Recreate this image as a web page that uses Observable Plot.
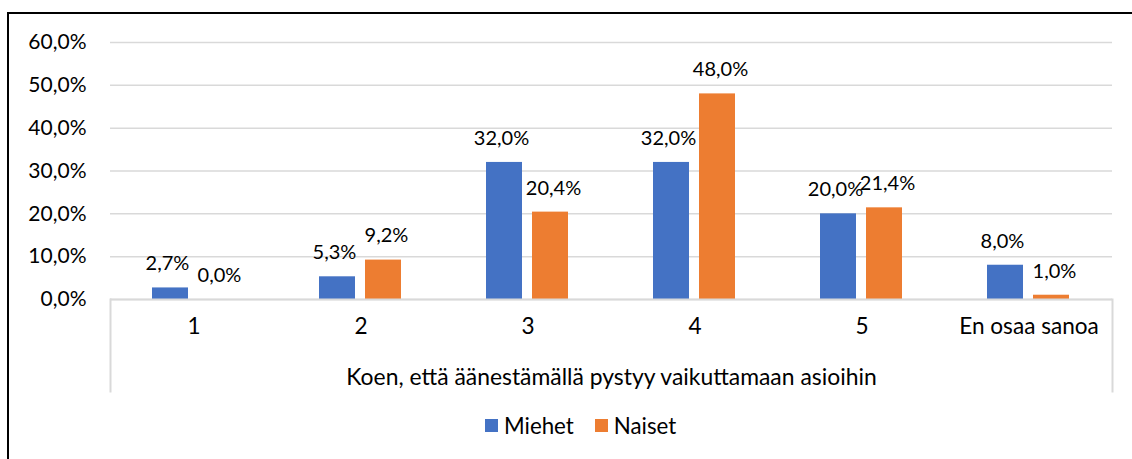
<!DOCTYPE html>
<html>
<head>
<meta charset="utf-8">
<script src="https://cdn.jsdelivr.net/npm/d3@7"></script>
<script src="https://cdn.jsdelivr.net/npm/@observablehq/plot@0.6"></script>
<style>
  html, body { margin: 0; padding: 0; background: #fff; }
  body { width: 1132px; height: 459px; position: relative; overflow: hidden; font-family: Lato, "Open Sans", sans-serif; }
  #frame { position: absolute; left: 7px; top: 12px; width: 1200px; height: 500px; border: 2.5px solid #000; box-sizing: border-box; }
  #chart { position: absolute; left: 0; top: 0; }
  #legend { position: absolute; left: 485px; top: 409px; }
  .lg-swatch { margin-right: 21px !important; font-size: 22.3px; color: #000; }
  .lg-swatch > svg { margin-right: 6px !important; }
</style>
</head>
<body>
<div id="frame"></div>
<div id="chart"></div>
<div id="legend"></div>
<script>
const categories = ["1", "2", "3", "4", "5", "En osaa sanoa"];
const series = ["Miehet", "Naiset"];
const miehet = [0.027, 0.053, 0.32, 0.32, 0.20, 0.08];
const naiset = [0.0, 0.092, 0.204, 0.48, 0.214, 0.01];
const yTicks = [0, 0.1, 0.2, 0.3, 0.4, 0.5, 0.6];
const axisTitle = "Koen, että äänestämällä pystyy vaikuttamaan asioihin";
const colors = ["#4472C4", "#ED7D31"];

const data = categories.flatMap((c, i) => [
  {cat: c, series: "Miehet", value: miehet[i]},
  {cat: c, series: "Naiset", value: naiset[i]}
]);

const fmt = v => (v * 100).toFixed(1).replace(".", ",") + "%";

const plot = Plot.plot({
  width: 1132,
  height: 400,
  marginLeft: 108,
  marginRight: 19,
  marginTop: 42,
  marginBottom: 101,
  style: {fontFamily: "Lato, 'Open Sans', sans-serif", background: "transparent", overflow: "visible", color: "#000"},
  fx: {domain: categories, padding: 0, label: null, axis: null},
  x: {domain: series, paddingInner: 0.2128, paddingOuter: 0.888, axis: null},
  y: {domain: [0, 0.6], axis: null},
  color: {domain: series, range: colors},
  marks: [
    Plot.gridY(yTicks, {stroke: "#d9d9d9", strokeOpacity: 1, strokeWidth: 1.5}),
    Plot.axisY(yTicks, {tickSize: 0, tickPadding: 24, tickFormat: fmt, fontSize: 21, label: null}),
    Plot.axisFx({anchor: "bottom", tickSize: 0, tickPadding: 18, fontSize: 22.6, label: null}),
    Plot.barY(data, {fx: "cat", x: "series", y: "value", fill: "series"}),
    Plot.text(data.filter(d => d.series === "Miehet"), {fx: "cat", x: "series", y: "value", text: d => fmt(d.value), dy: -24, dx: -3, fontSize: 20, fill: "#000"}),
    Plot.text(data.filter(d => d.series === "Naiset"), {fx: "cat", x: "series", y: "value", text: d => fmt(d.value), dy: -24, dx: 3, fontSize: 20, fill: "#000"}),
    Plot.ruleY([0], {stroke: "#d9d9d9", strokeWidth: 2}),
    Plot.frame({anchor: "left", facet: "super", insetTop: 257, insetBottom: -92, stroke: "#d9d9d9", strokeWidth: 2}),
    Plot.frame({anchor: "right", facet: "super", insetTop: 257, insetBottom: -92, stroke: "#d9d9d9", strokeWidth: 2}),
    Plot.text([axisTitle], {frameAnchor: "bottom", facet: "super", lineAnchor: "middle", dy: 78, fontSize: 22.9, fill: "#000"})
  ]
});
document.getElementById("chart").appendChild(plot);

const legend = Plot.legend({
  color: {domain: series, range: colors},
  swatchSize: 13,
  className: "lg",
  style: {fontFamily: "Lato, 'Open Sans', sans-serif", fontSize: "22.3px"}
});
document.getElementById("legend").appendChild(legend);
</script>
</body>
</html>
